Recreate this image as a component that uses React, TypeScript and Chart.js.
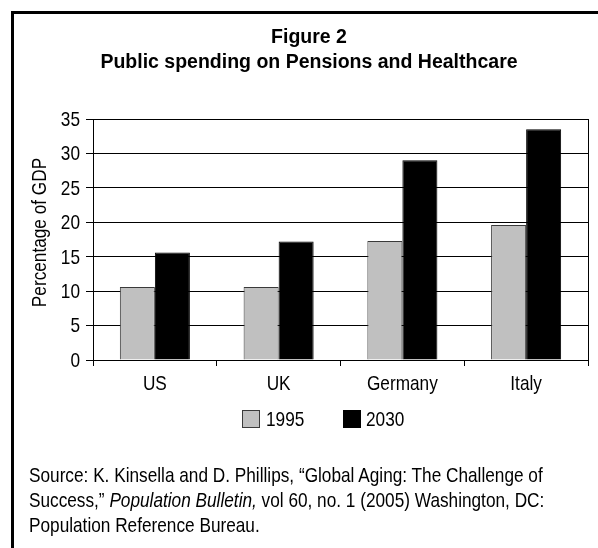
import React, { useEffect, useRef } from 'react';
import { Chart, registerables } from 'chart.js';

Chart.register(...registerables);

const categories = ['US', 'UK', 'Germany', 'Italy'];
const seriesNames = ['1995', '2030'];
const values1995 = [10.6, 10.6, 17.3, 19.6];
const values2030 = [15.6, 17.2, 29.0, 33.5];
const seriesFill = ['#c0c0c0', '#000000'];
const seriesBorder = ['#3a3a3a', '#000000'];
const yMin = 0;
const yMax = 35;
const yStep = 5;
const titleLines = ['Figure 2', 'Public spending on Pensions and Healthcare'];
const yAxisTitle = 'Percentage of GDP';
const sourceLine1 = 'Source: K. Kinsella and D. Phillips, “Global Aging: The Challenge of';
const sourceLine2a = 'Success,” ';
const sourceLine2b = 'Population Bulletin,';
const sourceLine2c = ' vol 60, no. 1 (2005) Washington, DC:';
const sourceLine3 = 'Population Reference Bureau.';

const SANS = "'Liberation Sans', Arial, sans-serif";
const NARROW_SCALE = 0.82;
const FONT_SIZE = 21;
const Y_TICK_LEN = 7;
const Y_TICK_PAD = 6;
const X_TICK_LEN = 6;

// Draws axis texts in a condensed (Arial Narrow-like) style, positioned from the chart's scales.
const narrowLabels = {
  id: 'narrowLabels',
  afterDraw(chart: any) {
    const ctx = chart.ctx as CanvasRenderingContext2D;
    const xs = chart.scales.x;
    const ys = chart.scales.y;
    ctx.save();
    ctx.fillStyle = '#000';
    ctx.font = `${FONT_SIZE}px ${SANS}`;

    ctx.textAlign = 'right';
    ctx.textBaseline = 'middle';
    ys.ticks.forEach((t: any, i: number) => {
      const y = ys.getPixelForTick(i);
      ctx.save();
      ctx.translate(ys.right - Y_TICK_LEN - Y_TICK_PAD, y + 1);
      ctx.scale(NARROW_SCALE, 1);
      ctx.fillText(String(t.value), 0, 0);
      ctx.restore();
    });

    ctx.textAlign = 'center';
    ctx.textBaseline = 'alphabetic';
    xs.ticks.forEach((_t: any, i: number) => {
      const x = xs.getPixelForTick(i);
      ctx.save();
      ctx.translate(x, xs.top + 30);
      ctx.scale(NARROW_SCALE, 1);
      ctx.fillText(categories[i], 0, 0);
      ctx.restore();
    });

    ctx.save();
    ctx.translate(40, (ys.top + ys.bottom) / 2 - 7);
    ctx.rotate(-Math.PI / 2);
    ctx.scale(NARROW_SCALE, 1);
    ctx.textAlign = 'center';
    ctx.textBaseline = 'middle';
    ctx.fillText(yAxisTitle, 0, 0);
    ctx.restore();

    ctx.restore();
  },
};

export default function App() {
  const ref = useRef<HTMLCanvasElement | null>(null);

  useEffect(() => {
    document.body.style.overflow = 'hidden';
    const canvas = ref.current;
    if (!canvas) return;
    const chart = new Chart(canvas, {
      type: 'bar',
      data: {
        labels: categories,
        datasets: [
          {
            label: seriesNames[0],
            data: values1995,
            backgroundColor: seriesFill[0],
            borderColor: seriesBorder[0],
            borderWidth: 1,
            categoryPercentage: 0.566,
            barPercentage: 1,
          },
          {
            label: seriesNames[1],
            data: values2030,
            backgroundColor: seriesFill[1],
            borderColor: seriesBorder[1],
            borderWidth: 1,
            categoryPercentage: 0.566,
            barPercentage: 1,
          },
        ],
      },
      options: {
        responsive: false,
        animation: false,
        devicePixelRatio: 1,
        layout: { padding: { top: 119, left: 0, right: 10, bottom: 148 } },
        plugins: {
          legend: { display: false },
          title: { display: false },
          tooltip: { enabled: false },
        },
        scales: {
          x: {
            offset: true,
            afterFit: (scale: any) => {
              scale.height = 40;
            },
            grid: {
              offset: true,
              drawOnChartArea: true,
              color: (ctx: any) => (ctx.type === 'scale' ? '#000' : 'rgba(0,0,0,0)'),
              tickColor: '#000',
              tickLength: X_TICK_LEN,
              lineWidth: 1,
            },
            border: { display: true, color: '#000', width: 1 },
            ticks: { display: false },
          },
          y: {
            min: yMin,
            max: yMax,
            afterFit: (scale: any) => {
              scale.width = 93;
            },
            ticks: { display: false, stepSize: yStep },
            grid: {
              color: '#000',
              tickColor: '#000',
              tickLength: Y_TICK_LEN,
              lineWidth: 1,
            },
            border: { display: true, color: '#000', width: 1 },
          },
        },
      },
      plugins: [narrowLabels],
    });
    return () => chart.destroy();
  }, []);

  const textStyle: React.CSSProperties = {
    position: 'absolute',
    fontFamily: SANS,
    fontSize: FONT_SIZE,
    lineHeight: '25px',
    color: '#000',
    whiteSpace: 'nowrap',
    transform: `scaleX(${NARROW_SCALE})`,
    transformOrigin: 'left top',
  };

  return (
    <div>
      <div
        style={{
          position: 'absolute',
          left: 11,
          top: 11,
          width: 587 - 3,
          height: 537 - 3,
          borderLeft: '3px solid #000',
          borderTop: '3px solid #000',
          background: '#fff',
        }}
      />
      <canvas
        ref={ref}
        width={598}
        height={548}
        style={{ position: 'absolute', left: 0, top: 0, width: 598, height: 548 }}
      />
      <div
        style={{
          position: 'absolute',
          left: 14,
          top: 24,
          width: 590,
          textAlign: 'center',
          fontFamily: SANS,
          fontWeight: 'bold',
          fontSize: 19.5,
          lineHeight: '25px',
          color: '#000',
          whiteSpace: 'nowrap',
        }}
      >
        {titleLines.map((t) => (
          <div key={t}>{t}</div>
        ))}
      </div>
      <div
        style={{
          position: 'absolute',
          left: 242,
          top: 410,
          width: 16,
          height: 16,
          background: seriesFill[0],
          border: '1px solid #3a3a3a',
        }}
      />
      <div style={{ ...textStyle, left: 266, top: 406 }}>{seriesNames[0]}</div>
      <div
        style={{
          position: 'absolute',
          left: 343,
          top: 410,
          width: 16,
          height: 16,
          background: seriesFill[1],
          border: '1px solid #000',
        }}
      />
      <div style={{ ...textStyle, left: 366, top: 406 }}>{seriesNames[1]}</div>
      <div style={{ ...textStyle, left: 29, top: 462 }}>
        <div>{sourceLine1}</div>
        <div>
          {sourceLine2a}
          <i>{sourceLine2b}</i>
          {sourceLine2c}
        </div>
        <div>{sourceLine3}</div>
      </div>
    </div>
  );
}
